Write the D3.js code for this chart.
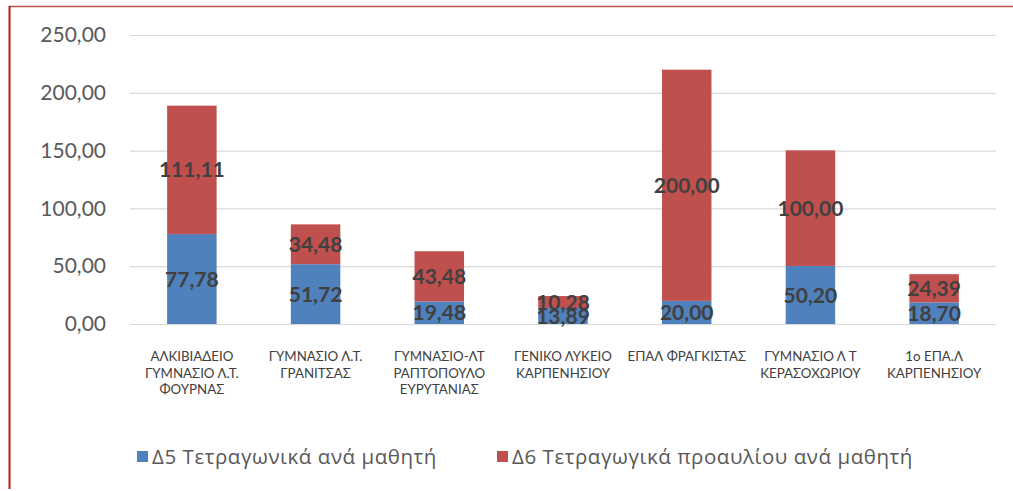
<!DOCTYPE html>
<html>
<head>
<meta charset="utf-8">
<script src="https://cdn.jsdelivr.net/npm/d3@7"></script>
<style>
  body { margin: 0; background: #fff; }
  svg { display: block; font-family: Lato, "Open Sans", sans-serif; }
</style>
</head>
<body>
<div id="chart"></div>
<script>
const categories = [
  ['ΑΛΚΙΒΙΑΔΕΙΟ', 'ΓΥΜΝΑΣΙΟ Λ.Τ.', 'ΦΟΥΡΝΑΣ'],
  ['ΓΥΜΝΑΣΙΟ Λ.Τ.', 'ΓΡΑΝΙΤΣΑΣ'],
  ['ΓΥΜΝΑΣΙΟ-ΛΤ', 'ΡΑΠΤΟΠΟΥΛΟ', 'ΕΥΡΥΤΑΝΙΑΣ'],
  ['ΓΕΝΙΚΟ ΛΥΚΕΙΟ', 'ΚΑΡΠΕΝΗΣΙΟΥ'],
  ['ΕΠΑΛ ΦΡΑΓΚΙΣΤΑΣ'],
  ['ΓΥΜΝΑΣΙΟ Λ Τ', 'ΚΕΡΑΣΟΧΩΡΙΟΥ'],
  ['1ο ΕΠΑ.Λ', 'ΚΑΡΠΕΝΗΣΙΟΥ']
];
const d5 = [77.78, 51.72, 19.48, 13.89, 20.00, 50.20, 18.70];
const d6 = [111.11, 34.48, 43.48, 10.28, 200.00, 100.00, 24.39];
const seriesNames = ['Δ5 Τετραγωνικά ανά μαθητή', 'Δ6 Τετραγωγικά προαυλίου ανά μαθητή'];
const yTicks = [0, 50, 100, 150, 200, 250];

const width = 1013, height = 491;
const colors = ['#4f81bd', '#c0504d'];
const fmt = v => v.toFixed(2).replace('.', ',');

const svg = d3.select('#chart').append('svg')
  .attr('width', width).attr('height', height);

// frame
svg.append('line').attr('x1', 9).attr('x2', width).attr('y1', 6.5).attr('y2', 6.5)
  .attr('stroke', '#c0504d').attr('stroke-width', 1.5);
svg.append('line').attr('x1', 9.5).attr('x2', 9.5).attr('y1', 6).attr('y2', 489)
  .attr('stroke', '#b81c1c').attr('stroke-width', 2);

const x = d3.scaleBand().domain(d3.range(categories.length)).range([130, 996]).paddingInner(0.6).paddingOuter(0.3);
const y = d3.scaleLinear().domain([0, 250]).range([324, 35]);

// grid
svg.append('g').selectAll('line').data(yTicks).join('line')
  .attr('x1', 130).attr('x2', 996)
  .attr('y1', d => y(d) + 0.5).attr('y2', d => y(d) + 0.5)
  .attr('stroke', '#d9d9d9').attr('stroke-width', 1.2);

// y axis labels
const yAxis = d3.axisLeft(y).tickValues(yTicks).tickFormat(fmt).tickSize(0).tickPadding(0);
const ya = svg.append('g').attr('transform', 'translate(106,0)').call(yAxis);
ya.select('.domain').remove();
ya.selectAll('text').attr('font-size', 21).attr('fill', '#595959').attr('font-family', 'Lato, sans-serif');

// stacked data
const rows = categories.map((c, i) => ({ i, d5: d5[i], d6: d6[i] }));
const stack = d3.stack().keys(['d5', 'd6'])(rows);

const layers = svg.append('g').selectAll('g').data(stack).join('g')
  .attr('fill', (d, k) => colors[k]);
layers.selectAll('rect').data(d => d).join('rect')
  .attr('x', d => x(d.data.i))
  .attr('width', x.bandwidth())
  .attr('y', d => y(d[1]))
  .attr('height', d => y(d[0]) - y(d[1]));

// value labels
const labels = svg.append('g');
stack.forEach(layer => {
  labels.selectAll(null).data(layer).join('text')
    .attr('x', d => x(d.data.i) + x.bandwidth() / 2)
    .attr('y', d => y((d[0] + d[1]) / 2))
    .attr('dy', '0.36em')
    .attr('text-anchor', 'middle')
    .attr('font-size', 21).attr('font-weight', 'bold')
    .attr('fill', '#404040')
    .text(d => fmt(d[1] - d[0]));
});

// category labels
const cat = svg.append('g').selectAll('text').data(categories).join('text')
  .attr('text-anchor', 'middle')
  .attr('font-size', 13.3).attr('fill', '#404040')
  .attr('transform', (d, i) => `translate(${x(i) + x.bandwidth() / 2},361)`);
cat.selectAll('tspan').data(d => d).join('tspan')
  .attr('x', 0).attr('dy', (d, j) => j === 0 ? 0 : 16.5)
  .text(d => d);

// legend
const legendX = [137, 497];
const lg = svg.append('g').selectAll('g').data(seriesNames).join('g')
  .attr('transform', (d, k) => `translate(${legendX[k]},457)`);
lg.append('rect').attr('x', 0).attr('y', -6).attr('width', 11).attr('height', 11)
  .attr('fill', (d, k) => colors[k]);
lg.append('text').attr('x', 15).attr('dy', '0.36em')
  .attr('font-size', 20.5).attr('letter-spacing', 0.55)
  .attr('font-family', '"Open Sans", sans-serif').attr('fill', '#595959')
  .text(d => d);
</script>
</body>
</html>
